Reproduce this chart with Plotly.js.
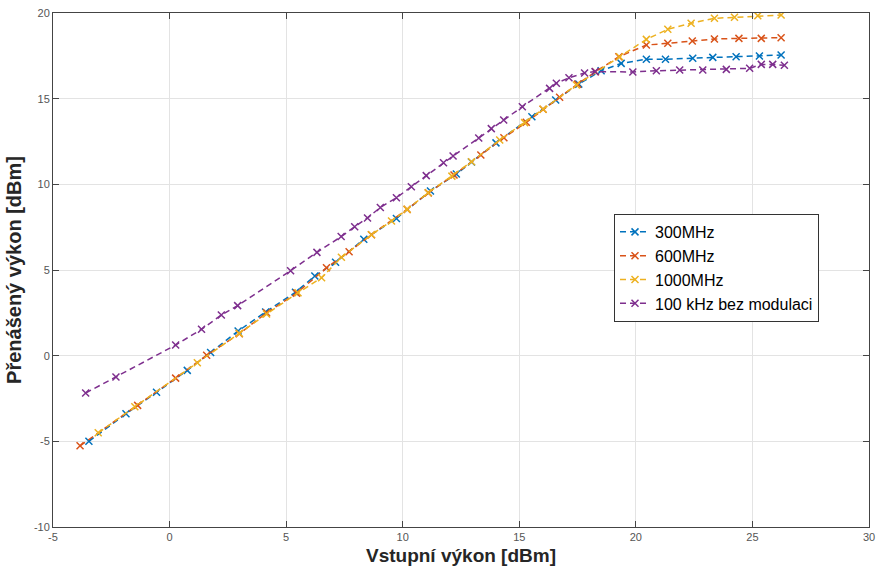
<!DOCTYPE html>
<html>
<head>
<meta charset="utf-8">
<script src="https://cdn.plot.ly/plotly-3.0.1.min.js"></script>
<style>
html,body{margin:0;padding:0;background:#fff;}
#chart{width:877px;height:571px;}
</style>
</head>
<body>
<div id="chart"></div>
<script>
// Series names (legend)
const seriesNames = ["300MHz", "600MHz", "1000MHz", "100 kHz bez modulaci"];

// 300 MHz
const x300 = [-3.46, -1.87, -0.56, 0.76, 1.76, 2.94, 4.12, 5.40, 6.23, 7.12, 8.33, 9.73, 11.19, 12.30, 12.95, 14.00, 15.54, 16.56, 17.55, 18.51, 19.37, 20.45, 21.27, 22.44, 23.30, 24.30, 25.30, 26.23];
const y300 = [-5.00, -3.39, -2.14, -0.86, 0.19, 1.44, 2.55, 3.70, 4.65, 5.45, 6.79, 8.01, 9.61, 10.60, 11.30, 12.42, 13.95, 14.92, 15.85, 16.63, 17.06, 17.30, 17.30, 17.36, 17.41, 17.45, 17.49, 17.55];

// 600 MHz
const x600 = [-3.84, -1.37, 0.26, 1.59, 2.99, 4.16, 5.45, 6.73, 7.70, 8.66, 10.19, 11.10, 12.20, 13.35, 14.34, 15.30, 16.02, 16.73, 17.50, 18.27, 19.27, 20.45, 21.37, 22.42, 23.37, 24.42, 25.38, 26.23];
const y600 = [-5.26, -2.90, -1.31, 0.02, 1.28, 2.50, 3.65, 5.13, 6.07, 7.06, 8.54, 9.50, 10.55, 11.71, 12.72, 13.62, 14.38, 15.08, 15.85, 16.57, 17.45, 18.13, 18.23, 18.37, 18.48, 18.52, 18.52, 18.56];

// 1000 MHz
const x1000 = [-3.06, -1.49, 1.19, 2.99, 4.16, 5.51, 6.52, 7.37, 8.66, 9.52, 10.19, 11.09, 12.11, 12.95, 14.16, 15.23, 16.02, 17.45, 19.30, 20.45, 21.37, 22.37, 23.37, 24.23, 25.23, 26.23];
const y1000 = [-4.50, -2.98, -0.41, 1.30, 2.43, 3.67, 4.55, 5.74, 7.06, 7.86, 8.54, 9.51, 10.48, 11.32, 12.59, 13.60, 14.38, 15.80, 17.45, 18.46, 19.05, 19.40, 19.69, 19.75, 19.84, 19.88];

// 100 kHz bez modulaci
const x100k = [-3.60, -2.30, 0.26, 1.37, 2.22, 2.92, 5.19, 6.32, 7.36, 7.94, 8.49, 9.04, 9.73, 10.37, 11.01, 11.75, 12.16, 13.26, 13.80, 14.33, 15.13, 16.30, 16.59, 17.13, 17.80, 18.25, 19.87, 20.88, 21.88, 22.87, 23.88, 24.88, 25.38, 25.87, 26.37];
const y100k = [-2.18, -1.25, 0.62, 1.54, 2.37, 2.92, 4.96, 6.03, 6.95, 7.52, 8.04, 8.65, 9.22, 9.86, 10.51, 11.26, 11.65, 12.70, 13.25, 13.75, 14.53, 15.60, 15.90, 16.22, 16.50, 16.58, 16.56, 16.63, 16.67, 16.67, 16.71, 16.77, 17.00, 17.00, 16.95];

// Axis ticks
const xTicks = [-5, 0, 5, 10, 15, 20, 25, 30];
const yTicks = [-10, -5, 0, 5, 10, 15, 20];

const colors = ["#0072BD", "#D95319", "#EDB120", "#7E2F8E"];
const xs = [x300, x600, x1000, x100k];
const ys = [y300, y600, y1000, y100k];

const traces = xs.map((x, i) => ({
  x: x, y: ys[i], name: seriesNames[i],
  type: "scatter", mode: "lines+markers",
  line: {color: colors[i], width: 1.5, dash: "6px,4px"},
  marker: {symbol: "x-thin-open", size: 7, color: colors[i], line: {color: colors[i], width: 1.5}}
}));

const axisCommon = {
  showgrid: true, gridcolor: "#e3e3e3", gridwidth: 1,
  showline: true, linecolor: "#444", linewidth: 1,
  ticks: "inside", ticklen: 6, tickwidth: 1, tickcolor: "#444",
  mirror: "ticks", zeroline: false,
  tickfont: {family: "Liberation Sans, Arial, sans-serif", size: 11, color: "#555"}
};

const layout = {
  width: 877, height: 571,
  margin: {l: 53, r: 8, t: 13, b: 44},
  paper_bgcolor: "#fff", plot_bgcolor: "#fff",
  showlegend: true,
  font: {family: "Liberation Sans, Arial, sans-serif"},
  xaxis: Object.assign({}, axisCommon, {
    range: [-5, 30], tickvals: xTicks, ticktext: xTicks.map(String),
    title: {text: "Vstupní výkon [dBm]", font: {size: 19, color: "#262626", family: "Liberation Sans, Arial, sans-serif", weight: "bold"}, standoff: 6}
  }),
  yaxis: Object.assign({}, axisCommon, {
    range: [-10, 20], tickvals: yTicks, ticktext: yTicks.map(String),
    title: {text: "Přenášený výkon [dBm]", font: {size: 20, color: "#262626", family: "Liberation Sans, Arial, sans-serif", weight: "bold"}, standoff: 6}
  }),
  legend: {
    x: 0.6875, y: 0.609, xanchor: "left", yanchor: "top",
    bgcolor: "#fff", bordercolor: "#333", borderwidth: 1,
    font: {size: 16, color: "#000", family: "Liberation Sans, Arial, sans-serif"},
    itemwidth: 30, tracegroupgap: 0
  }
};

Plotly.newPlot("chart", traces, layout, {displayModeBar: false, staticPlot: true});
</script>
</body>
</html>
